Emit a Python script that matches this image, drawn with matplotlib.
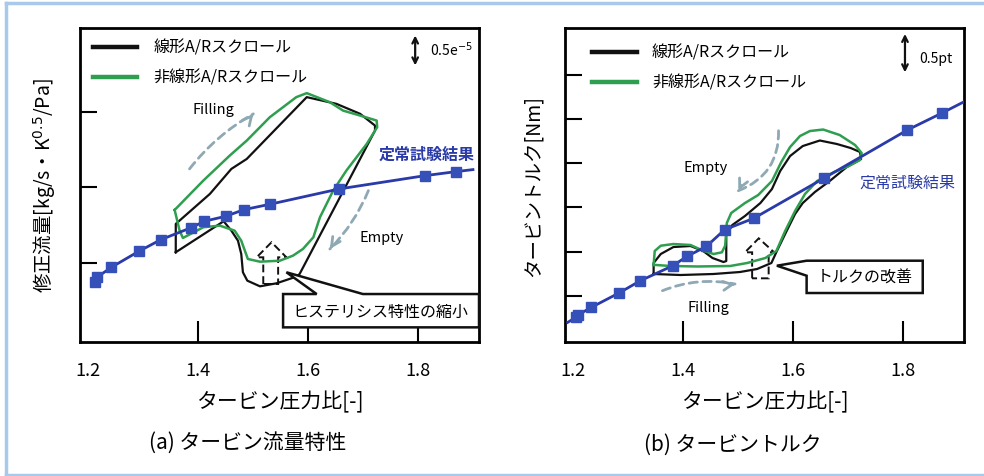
import matplotlib
matplotlib.use('Agg')
import matplotlib.pyplot as plt
from matplotlib.patches import Polygon
from matplotlib.lines import Line2D

plt.rcParams['font.family'] = ['Noto Sans CJK JP', 'DejaVu Sans']

# ---- (a) flow characteristic, y in tick units (no labels in original)
flow_steady_x = [1.214, 1.217, 1.243, 1.293, 1.333, 1.387, 1.412, 1.451, 1.484, 1.531, 1.657, 1.813, 1.869, 1.900]
flow_steady_y = [0.744, 0.811, 0.943, 1.155, 1.309, 1.464, 1.552, 1.619, 1.706, 1.777, 1.980, 2.156, 2.209, 2.236]

flow_lin_x = [1.360, 1.360, 1.422, 1.461, 1.489, 1.598, 1.652, 1.695, 1.722, 1.722, 1.585, 1.579, 1.543,
              1.513, 1.490, 1.482, 1.479, 1.473, 1.461, 1.447, 1.360]
flow_lin_y = [1.142, 1.517, 1.914, 2.245, 2.377, 3.195, 3.106, 2.974, 2.819, 2.752, 0.854, 0.819, 0.731,
              0.691, 0.766, 0.877, 1.119, 1.295, 1.428, 1.552, 1.142]

flow_nonlin_x = [1.358, 1.410, 1.458, 1.489, 1.531, 1.579, 1.598, 1.640, 1.664, 1.695, 1.725, 1.726, 1.707,
                 1.670, 1.646, 1.622, 1.610, 1.591, 1.573, 1.549, 1.513, 1.491, 1.479, 1.467, 1.440, 1.410,
                 1.373, 1.367, 1.358]
flow_nonlin_y = [1.702, 2.090, 2.421, 2.620, 2.930, 3.195, 3.248, 3.128, 3.017, 2.951, 2.885, 2.797, 2.576,
                 2.223, 1.958, 1.605, 1.340, 1.185, 1.097, 1.030, 1.017, 1.053, 1.295, 1.428, 1.494, 1.473,
                 1.331, 1.428, 1.702]

# ---- (b) torque
torq_steady_x = [1.191, 1.206, 1.209, 1.234, 1.284, 1.323, 1.382, 1.408, 1.443, 1.476, 1.529, 1.657, 1.808, 1.871, 1.909]
torq_steady_y = [0.397, 0.511, 0.560, 0.737, 1.061, 1.340, 1.680, 1.893, 2.119, 2.495, 2.754, 3.666, 4.754, 5.139, 5.381]

torq_lin_x = [1.347, 1.347, 1.360, 1.383, 1.414, 1.437, 1.454, 1.474, 1.479, 1.479, 1.490, 1.513, 1.541,
              1.562, 1.577, 1.595, 1.618, 1.649, 1.680, 1.705, 1.722, 1.724, 1.698, 1.667, 1.640, 1.618,
              1.604, 1.586, 1.571, 1.561, 1.535, 1.504, 1.456, 1.396, 1.347]
torq_lin_y = [1.492, 1.741, 1.945, 2.103, 2.126, 2.013, 1.854, 1.763, 1.786, 2.375, 2.602, 2.806, 3.100,
              3.417, 3.825, 4.165, 4.391, 4.516, 4.437, 4.346, 4.256, 4.097, 3.916, 3.599, 3.349, 3.100,
              2.851, 2.398, 2.013, 1.741, 1.605, 1.537, 1.492, 1.469, 1.492]

torq_nonlin_x = [1.347, 1.349, 1.360, 1.383, 1.414, 1.437, 1.456, 1.471, 1.477, 1.480, 1.488, 1.513, 1.537,
                 1.562, 1.579, 1.595, 1.613, 1.631, 1.655, 1.685, 1.713, 1.725, 1.722, 1.700, 1.675, 1.644,
                 1.622, 1.604, 1.586, 1.570, 1.550, 1.517, 1.486, 1.427, 1.378, 1.351, 1.347]
torq_nonlin_y = [1.696, 2.013, 2.133, 2.171, 2.149, 2.019, 1.945, 1.983, 2.133, 2.647, 2.874, 3.100, 3.281,
                 3.599, 4.029, 4.369, 4.618, 4.731, 4.765, 4.641, 4.414, 4.233, 4.074, 3.927, 3.802, 3.599,
                 3.304, 2.919, 2.466, 2.013, 1.854, 1.741, 1.673, 1.662, 1.673, 1.696, 1.696]

xticks = [1.2, 1.4, 1.6, 1.8]
xtick_labels = ['1.2', '1.4', '1.6', '1.8']

# hollow dashed "improvement" arrows  (x, y) outlines
flow_up_arrow = [(1.519, 0.722), (1.519, 1.075), (1.507, 1.075), (1.534, 1.274), (1.561, 1.075), (1.546, 1.075), (1.546, 0.722)]
torq_up_arrow = [(1.526, 1.394), (1.526, 1.983), (1.513, 1.983), (1.538, 2.300), (1.566, 1.983), (1.556, 1.983), (1.556, 1.394)]

# callouts
flow_callout = [(1.555, 0.589), (1.616, 0.589), (1.561, 0.877), (1.700, 0.589), (1.911, 0.589), (1.911, 0.148), (1.555, 0.148)]
torq_callout = [(1.625, 1.793), (1.836, 1.793), (1.836, 1.061), (1.625, 1.061), (1.625, 1.453), (1.571, 1.680)]

BLUE = '#2a3aa8'
MARK = '#3550b8'
GREEN = '#2f9e4f'
DASH = '#8fa9b4'

fig = plt.figure(figsize=(9.84, 4.77), dpi=100)
axL = fig.add_axes([0.0813, 0.2809, 0.4055, 0.6583])
axR = fig.add_axes([0.5742, 0.2809, 0.4055, 0.6583])


def style(ax, yticks, ylim):
    ax.set_xlim(1.186, 1.911)
    ax.set_ylim(*ylim)
    ax.set_xticks(xticks)
    ax.set_xticklabels(xtick_labels)
    ax.set_yticks(yticks)
    ax.set_yticklabels([])
    ax.tick_params(axis='x', direction='in', length=15, width=1.5, pad=14, labelsize=13)
    ax.tick_params(axis='y', direction='in', length=12, width=1.5)
    ax.xaxis.get_major_ticks()[0].tick1line.set_visible(False)
    for s in ax.spines.values():
        s.set_linewidth(2)


def legend(ax, x0, x1, xt, y1, y2):
    ax.add_line(Line2D([x0, x1], [y1, y1], color='#111111', lw=3.2, transform=ax.transAxes))
    ax.add_line(Line2D([x0, x1], [y2, y2], color=GREEN, lw=3.2, transform=ax.transAxes))
    ax.text(xt, y1, '線形A/Rスクロール', transform=ax.transAxes, fontsize=11.5, va='center')
    ax.text(xt, y2, '非線形A/Rスクロール', transform=ax.transAxes, fontsize=11.5, va='center')


def scale(ax, x, ytop, ybot, xt, yt, txt):
    ax.annotate('', xy=(x, ytop), xytext=(x, ybot), xycoords='axes fraction',
                arrowprops=dict(arrowstyle='<->', color='#111111', lw=1.6))
    ax.text(xt, yt, txt, transform=ax.transAxes, fontsize=10, va='center')


def dashed(ax, start, end, rad, before):
    # dashed curved shaft
    ax.annotate('', xy=end, xytext=start,
                arrowprops=dict(arrowstyle='-', color=DASH, lw=2, linestyle=(0, (3, 2)),
                                connectionstyle='arc3,rad=%s' % rad, shrinkA=0, shrinkB=0))
    # solid open head
    hx = end[0] + 0.3 * (before[0] - end[0])
    hy = end[1] + 0.3 * (before[1] - end[1])
    ax.annotate('', xy=end, xytext=(hx, hy),
                arrowprops=dict(arrowstyle='->', color=DASH, lw=2, mutation_scale=16,
                                shrinkA=0, shrinkB=0))


# ----- left panel
style(axL, [1, 2, 3], (-0.046, 4.11))
axL.plot(flow_steady_x, flow_steady_y, color=BLUE, lw=2, marker='s', ms=7.5, mfc=MARK, mec=MARK,
         markevery=list(range(len(flow_steady_x) - 1)), zorder=3)
axL.plot(flow_lin_x, flow_lin_y, color='#111111', lw=1.6, zorder=2)
axL.plot(flow_nonlin_x, flow_nonlin_y, color=GREEN, lw=1.8, zorder=2)
axL.add_patch(Polygon(flow_up_arrow, closed=True, fill=False, ec='#111111', lw=1.4, ls=(0, (4, 2))))
axL.add_patch(Polygon(flow_callout, closed=True, fc='white', ec='#111111', lw=1.8, clip_on=False, zorder=4))
axL.text(1.731, 0.36, 'ヒステリシス特性の縮小', fontsize=11.5, ha='center', va='center', zorder=5)
dashed(axL, (1.385, 2.245), (1.501, 2.974), -0.1, (1.491, 2.885))
dashed(axL, (1.710, 1.958), (1.640, 1.185), -0.1, (1.652, 1.318))
axL.text(1.428, 3.04, 'Filling', fontsize=10.5, ha='center', va='center')
axL.text(1.734, 1.34, 'Empty', fontsize=10.5, ha='center', va='center')
axL.text(1.816, 2.444, '定常試験結果', fontsize=11.5, color=BLUE, fontweight='bold', ha='center', va='center')
legend(axL, 0.033, 0.142, 0.184, 0.939, 0.843)
scale(axL, 0.840, 0.985, 0.872, 0.877, 0.935, '0.5e$^{-5}$')
axL.set_ylabel('修正流量[kg/s・K$^{0.5}$/Pa]', fontsize=14, labelpad=12)
axL.set_xlabel('タービン圧力比[-]', fontsize=15, labelpad=8)

# ----- right panel
style(axR, [1, 2, 3, 4, 5, 6], (-0.049, 7.065))
axR.plot(torq_steady_x, torq_steady_y, color=BLUE, lw=2, marker='s', ms=7.5, mfc=MARK, mec=MARK,
         markevery=list(range(1, len(torq_steady_x) - 1)), zorder=3)
axR.plot(torq_lin_x, torq_lin_y, color='#111111', lw=1.6, zorder=2)
axR.plot(torq_nonlin_x, torq_nonlin_y, color=GREEN, lw=1.8, zorder=2)
axR.add_patch(Polygon(torq_up_arrow, closed=True, fill=False, ec='#111111', lw=1.4, ls=(0, (4, 2))))
axR.add_patch(Polygon(torq_callout, closed=True, fc='white', ec='#111111', lw=1.8, zorder=4))
axR.text(1.730, 1.42, 'トルクの改善', fontsize=11.5, ha='center', va='center', zorder=5)
dashed(axR, (1.574, 4.738), (1.501, 3.379), -0.35, (1.517, 3.796))
dashed(axR, (1.363, 1.113), (1.495, 1.265), -0.15, (1.483, 1.242))
axR.text(1.441, 3.909, 'Empty', fontsize=10.5, ha='center', va='center')
axR.text(1.447, 0.737, 'Filling', fontsize=10.5, ha='center', va='center')
axR.text(1.809, 3.583, '定常試験結果', fontsize=11.5, color=BLUE, ha='center', va='center')
legend(axR, 0.067, 0.180, 0.218, 0.923, 0.827)
scale(axR, 0.852, 0.99, 0.85, 0.887, 0.904, '0.5pt')
axR.set_ylabel('タービントルク[Nm]', fontsize=14, labelpad=12)
axR.set_xlabel('タービン圧力比[-]', fontsize=15, labelpad=8)

# captions
fig.text(248 / 984, 1 - 443 / 477, '(a) タービン流量特性', fontsize=15, ha='center', va='center')
fig.text(733 / 984, 1 - 445 / 477, '(b) タービントルク', fontsize=15, ha='center', va='center')

# light blue frame
frame_c = '#a9c9ea'
fig.add_artist(Line2D([0.006, 1], [0.9916, 0.9916], color=frame_c, lw=2.5, transform=fig.transFigure))
fig.add_artist(Line2D([0.006, 0.006], [0.002, 0.9916], color=frame_c, lw=2.5, transform=fig.transFigure))
fig.add_artist(Line2D([0.006, 1], [0.003, 0.003], color=frame_c, lw=2.5, transform=fig.transFigure))

fig.savefig('out.png', dpi=100)
